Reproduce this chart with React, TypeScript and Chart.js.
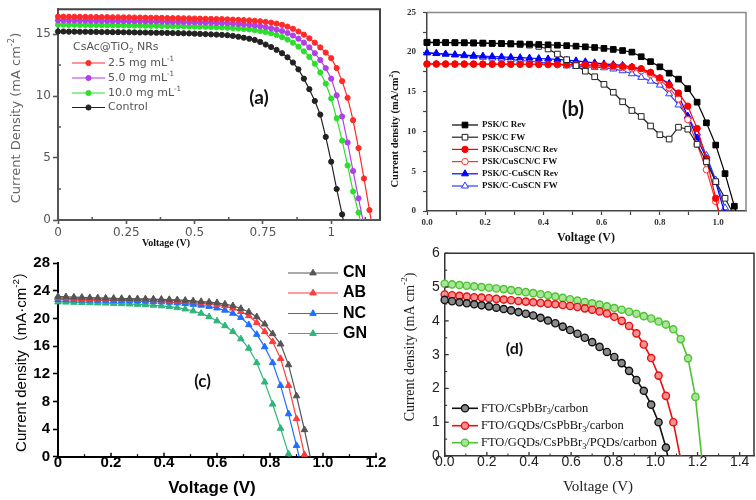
import React, { useEffect, useRef } from 'react';
import { Chart, registerables } from 'chart.js';

Chart.register(...registerables);

const W = 756;
const H = 500;

// ---------------- Panel (a) data ----------------
const A_VOLTAGE = [0, 0.02, 0.04, 0.06, 0.08, 0.1, 0.12, 0.14, 0.16, 0.18, 0.2, 0.22, 0.24, 0.26, 0.28, 0.3, 0.32, 0.34, 0.36, 0.38, 0.4, 0.42, 0.44, 0.46, 0.48, 0.5, 0.52, 0.54, 0.56, 0.58, 0.6, 0.62, 0.64, 0.66, 0.68, 0.7, 0.72, 0.74, 0.76, 0.78, 0.8, 0.82, 0.84, 0.86, 0.88, 0.9, 0.92, 0.94, 0.96, 0.98, 1.0, 1.02, 1.04, 1.06, 1.08, 1.1, 1.12, 1.14, 1.16];
const A_J_25 = [16.40, 16.40, 16.39, 16.39, 16.38, 16.38, 16.37, 16.37, 16.36, 16.36, 16.35, 16.35, 16.34, 16.34, 16.33, 16.33, 16.32, 16.31, 16.31, 16.30, 16.29, 16.28, 16.28, 16.27, 16.26, 16.25, 16.24, 16.23, 16.22, 16.21, 16.20, 16.18, 16.16, 16.14, 16.12, 16.10, 16.07, 16.03, 15.98, 15.92, 15.84, 15.74, 15.60, 15.42, 15.20, 14.95, 14.65, 14.30, 13.92, 13.50, 13.05, 12.25, 11.20, 9.85, 8.05, 5.80, 3.35, 0.80, -1.90];
const A_J_50 = [16.10, 16.10, 16.09, 16.09, 16.08, 16.08, 16.07, 16.07, 16.06, 16.06, 16.05, 16.05, 16.04, 16.04, 16.03, 16.03, 16.02, 16.01, 16.01, 16.00, 15.99, 15.98, 15.98, 15.97, 15.96, 15.95, 15.94, 15.93, 15.92, 15.90, 15.88, 15.86, 15.84, 15.81, 15.78, 15.74, 15.69, 15.63, 15.55, 15.46, 15.36, 15.24, 15.08, 14.88, 14.62, 14.30, 13.92, 13.45, 12.90, 12.25, 11.40, 10.05, 8.35, 6.25, 3.95, 1.75, -0.45, -2.60];
const A_J_100 = [15.75, 15.75, 15.74, 15.74, 15.73, 15.73, 15.72, 15.72, 15.71, 15.71, 15.70, 15.70, 15.69, 15.69, 15.68, 15.68, 15.67, 15.66, 15.66, 15.65, 15.64, 15.63, 15.63, 15.62, 15.61, 15.60, 15.59, 15.58, 15.57, 15.55, 15.53, 15.51, 15.48, 15.45, 15.41, 15.37, 15.31, 15.24, 15.16, 15.06, 14.92, 14.75, 14.55, 14.30, 13.98, 13.60, 13.15, 12.60, 11.90, 11.00, 9.80, 8.20, 6.40, 4.40, 2.30, 0.60, -1.30];
const A_J_CONTROL = [15.20, 15.20, 15.19, 15.19, 15.18, 15.18, 15.17, 15.17, 15.16, 15.16, 15.15, 15.15, 15.14, 15.14, 15.13, 15.12, 15.12, 15.11, 15.10, 15.10, 15.09, 15.08, 15.07, 15.06, 15.05, 15.03, 15.01, 14.99, 14.97, 14.95, 14.93, 14.90, 14.85, 14.78, 14.70, 14.62, 14.52, 14.36, 14.15, 13.95, 13.72, 13.45, 13.12, 12.70, 12.15, 11.40, 10.55, 9.60, 8.50, 6.70, 4.70, 2.50, 0.45, -1.80];
const A_NAMES = ['2.5 mg mL^{-1}', '5.0 mg mL^{-1}', '10.0 mg mL^{-1}', 'Control'];
const A_X_TICKS = [0, 0.25, 0.5, 0.75, 1];
const A_X_LABELS = ['0', '0.25', '0.5', '0.75', '1'];
const A_X_MINOR = [0.125, 0.375, 0.625, 0.875, 1.125];
const A_Y_TICKS = [0, 5, 10, 15];
const A_Y_LABELS = ['0', '5', '10', '15'];
const A_Y_MINOR = [2.5, 7.5, 12.5];

// ---------------- Panel (b) data ----------------
const B_VOLTAGE = [0, 0.032, 0.064, 0.096, 0.128, 0.16, 0.192, 0.224, 0.256, 0.288, 0.32, 0.352, 0.384, 0.416, 0.448, 0.48, 0.512, 0.544, 0.576, 0.608, 0.64, 0.672, 0.704, 0.736, 0.768, 0.8, 0.832, 0.864, 0.896, 0.928, 0.96, 0.992, 1.024, 1.056, 1.088];
const B_J_C_REV = [21.20, 21.19, 21.18, 21.17, 21.16, 21.14, 21.12, 21.10, 21.08, 21.06, 21.03, 21.00, 20.96, 20.92, 20.87, 20.81, 20.75, 20.67, 20.58, 20.47, 20.34, 20.20, 20.00, 19.42, 18.80, 18.15, 17.35, 16.60, 15.40, 13.70, 11.10, 8.30, 4.70, 0.60, -3.20];
const B_J_C_FW = [21.25, 21.24, 21.22, 21.21, 21.19, 21.17, 21.14, 21.11, 21.07, 21.02, 20.96, 20.88, 20.72, 20.40, 19.75, 19.05, 18.30, 17.60, 16.90, 15.95, 14.95, 13.75, 12.65, 11.90, 10.70, 9.60, 9.05, 10.55, 10.30, 8.40, 6.20, 3.70, 1.60, -0.60];
const B_J_CU_REV = [18.52, 18.52, 18.52, 18.51, 18.51, 18.51, 18.50, 18.50, 18.50, 18.49, 18.49, 18.48, 18.48, 18.47, 18.46, 18.45, 18.43, 18.41, 18.38, 18.34, 18.28, 18.21, 18.12, 17.92, 17.45, 16.75, 15.85, 14.85, 13.20, 10.40, 6.60, 1.60, -3.50];
const B_J_CU_FW = [18.48, 18.48, 18.47, 18.47, 18.47, 18.46, 18.46, 18.46, 18.45, 18.45, 18.44, 18.44, 18.43, 18.42, 18.41, 18.38, 18.35, 18.32, 18.28, 18.23, 18.15, 18.05, 17.90, 17.65, 17.20, 16.50, 15.50, 14.10, 11.50, 8.40, 5.20, 1.20, -3.00];
const B_J_CCU_REV = [19.90, 19.82, 19.75, 19.68, 19.62, 19.56, 19.50, 19.45, 19.40, 19.35, 19.30, 19.25, 19.20, 19.15, 19.08, 19.00, 18.90, 18.78, 18.65, 18.52, 18.42, 18.32, 18.12, 17.85, 17.38, 16.70, 16.05, 14.60, 11.90, 9.20, 6.60, 3.60, -0.40];
const B_J_CCU_FW = [19.95, 19.85, 19.75, 19.65, 19.55, 19.45, 19.35, 19.25, 19.15, 19.05, 18.95, 18.85, 18.75, 18.62, 18.48, 18.27, 18.20, 18.14, 18.08, 18.03, 17.87, 17.66, 17.28, 16.82, 16.35, 15.85, 14.75, 13.35, 11.95, 9.80, 7.00, 3.90, 0.40, -3.50];
const B_NAMES = ['PSK/C Rev', 'PSK/C FW', 'PSK/CuSCN/C Rev', 'PSK/CuSCN/C FW', 'PSK/C-CuSCN Rev', 'PSK/C-CuSCN FW'];
const B_X_TICKS = [0, 0.1, 0.2, 0.3, 0.4, 0.5, 0.6, 0.7, 0.8, 0.9, 1.0];
const B_X_LABELS = ['0.0', '', '0.2', '', '0.4', '', '0.6', '', '0.8', '', '1.0'];
const B_Y_TICKS = [0, 2.5, 5, 7.5, 10, 12.5, 15, 17.5, 20, 22.5, 25];
const B_Y_LABELS = ['0', '', '5', '', '10', '', '15', '', '20', '', '25'];

// ---------------- Panel (c) data ----------------
const C_VOLTAGE = [0, 0.03, 0.06, 0.09, 0.12, 0.15, 0.18, 0.21, 0.24, 0.27, 0.3, 0.33, 0.36, 0.39, 0.42, 0.45, 0.48, 0.51, 0.54, 0.57, 0.6, 0.63, 0.66, 0.69, 0.72, 0.75, 0.78, 0.81, 0.84, 0.87, 0.9, 0.93, 0.96];
const C_J_CN = [23.20, 23.15, 23.10, 23.06, 23.02, 22.99, 22.96, 22.93, 22.90, 22.88, 22.86, 22.84, 22.82, 22.79, 22.75, 22.70, 22.63, 22.55, 22.46, 22.38, 22.28, 22.10, 21.85, 21.45, 20.95, 20.25, 19.20, 17.80, 16.30, 13.30, 8.80, 3.90, -1.50];
const C_J_AB = [23.00, 22.96, 22.93, 22.90, 22.87, 22.85, 22.83, 22.81, 22.79, 22.77, 22.75, 22.73, 22.70, 22.67, 22.63, 22.58, 22.51, 22.43, 22.34, 22.22, 22.05, 21.85, 21.50, 21.00, 20.40, 19.40, 18.10, 16.65, 14.20, 10.30, 5.50, 0.30, -5.00];
const C_J_NC = [22.75, 22.72, 22.70, 22.68, 22.66, 22.64, 22.62, 22.60, 22.58, 22.56, 22.53, 22.50, 22.46, 22.41, 22.35, 22.27, 22.17, 22.05, 21.92, 21.75, 21.52, 21.20, 20.75, 20.15, 19.10, 17.70, 15.90, 13.60, 10.30, 6.20, 1.60, -3.30];
const C_J_GN = [22.40, 22.37, 22.34, 22.31, 22.28, 22.25, 22.22, 22.18, 22.14, 22.10, 22.05, 21.99, 21.92, 21.83, 21.72, 21.57, 21.38, 21.10, 20.75, 20.25, 19.65, 18.95, 18.10, 17.05, 15.70, 13.60, 10.80, 7.60, 4.10, 0.40, -3.50];
const C_NAMES = ['CN', 'AB', 'NC', 'GN'];
const C_X_TICKS = [0, 0.2, 0.4, 0.6, 0.8, 1.0, 1.2];
const C_X_LABELS = ['0', '0.2', '0.4', '0.6', '0.8', '1.0', '1.2'];
const C_X_MINOR = [0.1, 0.3, 0.5, 0.7, 0.9, 1.1];
const C_Y_TICKS = [0, 4, 8, 12, 16, 20, 24, 28];
const C_Y_LABELS = ['0', '4', '8', '12', '16', '20', '24', '28'];

// ---------------- Panel (d) data ----------------
const D_VOLTAGE = [0, 0.035, 0.07, 0.105, 0.14, 0.175, 0.21, 0.245, 0.28, 0.315, 0.35, 0.385, 0.42, 0.455, 0.49, 0.525, 0.56, 0.595, 0.63, 0.665, 0.7, 0.735, 0.77, 0.805, 0.84, 0.875, 0.91, 0.945, 0.98, 1.015, 1.05, 1.085, 1.12, 1.155, 1.19, 1.225];
const D_J_PLAIN = [4.62, 4.58, 4.55, 4.52, 4.49, 4.46, 4.43, 4.39, 4.35, 4.31, 4.26, 4.21, 4.16, 4.09, 4.01, 3.93, 3.83, 3.73, 3.62, 3.50, 3.37, 3.23, 3.08, 2.93, 2.75, 2.52, 2.25, 1.93, 1.52, 1.00, 0.25, -0.80];
const D_J_GQD = [4.78, 4.76, 4.74, 4.72, 4.70, 4.69, 4.67, 4.65, 4.63, 4.61, 4.59, 4.57, 4.55, 4.53, 4.51, 4.49, 4.47, 4.44, 4.41, 4.37, 4.33, 4.28, 4.22, 4.12, 4.00, 3.85, 3.63, 3.30, 2.90, 2.38, 1.78, 1.00, -0.10];
const D_J_GQD_PQD = [5.10, 5.08, 5.06, 5.04, 5.02, 5.00, 4.98, 4.96, 4.94, 4.91, 4.88, 4.85, 4.82, 4.79, 4.76, 4.72, 4.68, 4.64, 4.60, 4.56, 4.52, 4.48, 4.43, 4.38, 4.33, 4.27, 4.21, 4.14, 4.07, 3.98, 3.89, 3.75, 3.46, 2.89, 1.75, -0.35];
const D_NAMES = ['FTO/CsPbBr_{3}/carbon', 'FTO/GQDs/CsPbBr_{3}/carbon', 'FTO/GQDs/CsPbBr_{3}/PQDs/carbon'];
const D_X_TICKS = [0, 0.2, 0.4, 0.6, 0.8, 1.0, 1.2, 1.4];
const D_X_LABELS = ['0.0', '0.2', '0.4', '0.6', '0.8', '1.0', '1.2', '1.4'];
const D_X_MINOR = [0.1, 0.3, 0.5, 0.7, 0.9, 1.1, 1.3];
const D_Y_TICKS = [0, 1, 2, 3, 4, 5, 6];
const D_Y_LABELS = ['0', '1', '2', '3', '4', '5', '6'];
const D_Y_MINOR = [0.5, 1.5, 2.5, 3.5, 4.5, 5.5];

// ---------------- fonts ----------------
const DEJAVU = "'DejaVu Sans', sans-serif";
const SERIF = "'Liberation Serif', 'DejaVu Serif', serif";
const ARIAL = "'Liberation Sans', Arial, sans-serif";
const ARIAL_CJK = "'Liberation Sans', 'Noto Sans CJK SC', sans-serif";
const LATO = "Lato, 'Noto Sans', sans-serif";

type Seg = { t: string; sup?: boolean; sub?: boolean };

function parseRich(s: string): Seg[] {
  const out: Seg[] = [];
  const re = /(\^\{[^}]*\}|_\{[^}]*\})/g;
  let last = 0;
  let m: RegExpExecArray | null;
  while ((m = re.exec(s))) {
    if (m.index > last) out.push({ t: s.slice(last, m.index) });
    const inner = m[0].slice(2, -1);
    out.push(m[0][0] === '^' ? { t: inner, sup: true } : { t: inner, sub: true });
    last = m.index + m[0].length;
  }
  if (last < s.length) out.push({ t: s.slice(last) });
  return out;
}

function drawRich(ctx: CanvasRenderingContext2D, text: string, x: number, y: number, family: string, size: number, weight: string, color: string, align: string, rotate: boolean) {
  const segs = parseRich(text);
  const fontFor = (s: Seg) => `${weight} ${s.sup || s.sub ? size * 0.65 : size}px ${family}`;
  let total = 0;
  const widths = segs.map((s) => {
    ctx.font = fontFor(s);
    const w = ctx.measureText(s.t).width;
    total += w;
    return w;
  });
  ctx.save();
  ctx.translate(x, y);
  if (rotate) ctx.rotate(-Math.PI / 2);
  let cx = align === 'center' ? -total / 2 : align === 'right' ? -total : 0;
  ctx.fillStyle = color;
  ctx.textBaseline = 'middle';
  ctx.textAlign = 'left';
  segs.forEach((s, i) => {
    ctx.font = fontFor(s);
    const dy = s.sup ? -size * 0.38 : s.sub ? size * 0.3 : 0;
    ctx.fillText(s.t, cx, dy);
    cx += widths[i];
  });
  ctx.restore();
}

function drawMarker(ctx: CanvasRenderingContext2D, style: string, r: number, x: number, y: number, fill: string, stroke: string, lw: number) {
  ctx.beginPath();
  if (style === 'rect') {
    const s = r * Math.SQRT1_2;
    ctx.rect(x - s, y - s, 2 * s, 2 * s);
  } else if (style === 'triangle') {
    ctx.moveTo(x, y - r);
    ctx.lineTo(x + 0.866 * r, y + 0.5 * r);
    ctx.lineTo(x - 0.866 * r, y + 0.5 * r);
    ctx.closePath();
  } else {
    ctx.arc(x, y, r, 0, Math.PI * 2);
  }
  ctx.fillStyle = fill;
  ctx.fill();
  if (lw > 0) {
    ctx.lineWidth = lw;
    ctx.strokeStyle = stroke;
    ctx.stroke();
  }
}

type AxisSpec = {
  min: number; max: number; ticks: number[]; labels: string[];
  family: string; size: number; weight?: string; color: string;
  axisColor: string; axisWidth: number; tickLength: number; drawTicks: boolean; pad: number; box: number;
};

function axis(isX: boolean, a: AxisSpec) {
  return {
    type: 'linear',
    position: isX ? 'bottom' : 'left',
    min: a.min,
    max: a.max,
    afterBuildTicks: (s: any) => { s.ticks = a.ticks.map((v) => ({ value: v })); },
    afterFit: (s: any) => { if (isX) s.height = a.box; else s.width = a.box; },
    ticks: {
      autoSkip: false, maxRotation: 0, minRotation: 0, padding: a.pad, color: a.color,
      font: { family: a.family, size: a.size, weight: a.weight || 'normal' },
      callback: (_v: any, i: number) => a.labels[i] ?? '',
    },
    grid: {
      display: true, drawOnChartArea: false, drawTicks: a.drawTicks, tickLength: a.tickLength,
      tickWidth: a.axisWidth * 0.8, tickColor: a.axisColor, color: a.axisColor,
    },
    border: { display: true, color: a.axisColor, width: a.axisWidth },
  };
}

type TextSpec = { text: string; x: number; y: number; family: string; size: number; weight?: string; color: string; rotate?: boolean; align?: string };
type PanelSpec = {
  id: string;
  area: { left: number; top: number; right: number; bottom: number };
  x: AxisSpec; y: AxisSpec;
  datasets: any[];
  box?: { color: string; width: number };
  innerTicks?: { axis: string; values: number[]; len: number; color: string; width: number }[];
  legend?: { x1: number; x2: number; textX: number; ys: number[]; family: string; size: number; weight?: string; color: string };
  texts: TextSpec[];
};

function series(label: string, V: number[], J: number[], style: any) {
  return {
    label,
    data: J.map((y, i) => ({ x: V[i], y })),
    fill: false,
    tension: 0,
    clip: { left: 8, top: 8, right: 8, bottom: 0 },
    ...style,
  };
}

function decor(spec: PanelSpec) {
  return {
    id: 'decor_' + spec.id,
    afterDraw(chart: any) {
      const ctx: CanvasRenderingContext2D = chart.ctx;
      const ca = chart.chartArea;
      ctx.save();
      (spec.innerTicks || []).forEach((t) => {
        const sc = chart.scales[t.axis];
        ctx.strokeStyle = t.color;
        ctx.lineWidth = t.width;
        t.values.forEach((v) => {
          const p = sc.getPixelForValue(v);
          ctx.beginPath();
          if (t.axis === 'x') { ctx.moveTo(p, ca.bottom); ctx.lineTo(p, ca.bottom - t.len); }
          else { ctx.moveTo(ca.left, p); ctx.lineTo(ca.left + t.len, p); }
          ctx.stroke();
        });
      });
      if (spec.box) {
        ctx.strokeStyle = spec.box.color;
        ctx.lineWidth = spec.box.width;
        ctx.beginPath();
        ctx.moveTo(ca.left, ca.top);
        ctx.lineTo(ca.right, ca.top);
        ctx.lineTo(ca.right, ca.bottom);
        ctx.stroke();
      }
      const lg = spec.legend;
      if (lg) {
        chart.data.datasets.forEach((ds: any, i: number) => {
          const y = lg.ys[i];
          ctx.strokeStyle = ds.borderColor;
          ctx.lineWidth = ds.borderWidth;
          ctx.beginPath();
          ctx.moveTo(lg.x1, y);
          ctx.lineTo(lg.x2, y);
          ctx.stroke();
          drawMarker(ctx, ds.pointStyle, ds.pointRadius, (lg.x1 + lg.x2) / 2, y, ds.pointBackgroundColor, ds.pointBorderColor, ds.pointBorderWidth);
          drawRich(ctx, ds.label, lg.textX, y, lg.family, lg.size, lg.weight || 'normal', lg.color, 'left', false);
        });
      }
      spec.texts.forEach((t) => {
        drawRich(ctx, t.text, t.x, t.y, t.family, t.size, t.weight || 'normal', t.color, t.align || 'center', !!t.rotate);
      });
      ctx.restore();
    },
  };
}

function makeChart(canvas: HTMLCanvasElement, spec: PanelSpec) {
  return new Chart(canvas, {
    type: 'line',
    data: { datasets: spec.datasets },
    options: {
      animation: false,
      responsive: false,
      maintainAspectRatio: false,
      events: [],
      layout: {
        autoPadding: false,
        padding: {
          left: spec.area.left - spec.y.box,
          top: spec.area.top,
          right: W - spec.area.right,
          bottom: H - spec.area.bottom - spec.x.box,
        },
      },
      plugins: { legend: { display: false }, tooltip: { enabled: false }, title: { display: false } },
      scales: { x: axis(true, spec.x), y: axis(false, spec.y) },
    } as any,
    plugins: [decor(spec)],
  } as any);
}

function dot(color: string, r: number, style = 'circle', fill?: string, lw = 1) {
  return {
    borderColor: color, backgroundColor: color, borderWidth: 1.2, pointStyle: style, pointRadius: r,
    pointBackgroundColor: fill || color, pointBorderColor: color, pointBorderWidth: lw,
  };
}

const SPEC_A: PanelSpec = {
  id: 'a',
  area: { left: 58, top: 7, right: 380, bottom: 220 },
  x: { min: 0, max: 1.1786, ticks: A_X_TICKS, labels: A_X_LABELS, family: DEJAVU, size: 12, color: '#555', axisColor: '#555', axisWidth: 2, tickLength: 4, drawTicks: true, pad: 2, box: 30 },
  y: { min: 0, max: 17.0, ticks: A_Y_TICKS, labels: A_Y_LABELS, family: DEJAVU, size: 12, color: '#555', axisColor: '#555', axisWidth: 2, tickLength: 5, drawTicks: true, pad: 2, box: 50 },
  datasets: [
    series(A_NAMES[0], A_VOLTAGE, A_J_25, dot('#ff2a2a', 2.6)),
    series(A_NAMES[1], A_VOLTAGE, A_J_50, dot('#b040e8', 2.6)),
    series(A_NAMES[2], A_VOLTAGE, A_J_100, dot('#2be02b', 2.6)),
    series(A_NAMES[3], A_VOLTAGE, A_J_CONTROL, dot('#222222', 2.6)),
  ],
  box: { color: '#444', width: 2 },
  innerTicks: [
    { axis: 'x', values: A_X_MINOR, len: 3, color: '#555', width: 1.5 },
    { axis: 'y', values: A_Y_MINOR, len: 3, color: '#555', width: 1.5 },
  ],
  legend: { x1: 72, x2: 105, textX: 108, ys: [63, 78, 93, 107.5], family: DEJAVU, size: 11, color: '#555' },
  texts: [
    { text: 'CsAc@TiO_{2} NRs', x: 73, y: 47.5, family: DEJAVU, size: 11, color: '#555', align: 'left' },
    { text: 'Current Density (mA cm^{-2})', x: 17, y: 118, family: DEJAVU, size: 13, color: '#666', rotate: true },
    { text: 'Voltage (V)', x: 166, y: 243, family: SERIF, size: 10, weight: 'bold', color: '#111' },
    { text: '(a)', x: 259, y: 98, family: LATO, size: 19, weight: 'bold', color: '#111' },
  ],
};

const SPEC_B: PanelSpec = {
  id: 'b',
  area: { left: 427, top: 9, right: 746, bottom: 211 },
  x: { min: 0, max: 1.096, ticks: B_X_TICKS, labels: B_X_LABELS, family: SERIF, size: 9, weight: 'bold', color: '#333', axisColor: '#444', axisWidth: 1.5, tickLength: 4, drawTicks: true, pad: 2, box: 30 },
  y: { min: 0, max: 25, ticks: B_Y_TICKS, labels: B_Y_LABELS, family: SERIF, size: 9, weight: 'bold', color: '#333', axisColor: '#444', axisWidth: 1.5, tickLength: 4, drawTicks: true, pad: 7, box: 40 },
  datasets: [
    series(B_NAMES[0], B_VOLTAGE, B_J_C_REV, dot('#000000', 4, 'rect')),
    series(B_NAMES[1], B_VOLTAGE, B_J_C_FW, dot('#222222', 4, 'rect', '#ffffff', 1)),
    series(B_NAMES[2], B_VOLTAGE, B_J_CU_REV, dot('#ff0000', 3.2, 'circle')),
    series(B_NAMES[3], B_VOLTAGE, B_J_CU_FW, dot('#ff3030', 3.2, 'circle', '#ffffff', 1)),
    series(B_NAMES[4], B_VOLTAGE, B_J_CCU_REV, dot('#0000ff', 4, 'triangle')),
    series(B_NAMES[5], B_VOLTAGE, B_J_CCU_FW, dot('#2a3cff', 4, 'triangle', '#ffffff', 1)),
  ],
  box: { color: '#888', width: 1.5 },
  legend: { x1: 452, x2: 478, textX: 482, ys: [125, 137.2, 149.4, 161.6, 173.8, 186], family: SERIF, size: 9, weight: 'bold', color: '#111' },
  texts: [
    { text: 'Current density (mA/cm^{2})', x: 395, y: 129, family: SERIF, size: 10.5, weight: 'bold', color: '#111', rotate: true },
    { text: 'Voltage (V)', x: 586, y: 238, family: SERIF, size: 12, weight: 'bold', color: '#111' },
    { text: '(b)', x: 573, y: 109.5, family: LATO, size: 20, weight: 'bold', color: '#111' },
  ],
};

const SPEC_C: PanelSpec = {
  id: 'c',
  area: { left: 58, top: 263.3, right: 376, bottom: 456.7 },
  x: { min: 0, max: 1.2, ticks: C_X_TICKS, labels: C_X_LABELS, family: ARIAL, size: 15, weight: 'bold', color: '#000', axisColor: '#000', axisWidth: 2, tickLength: 0, drawTicks: false, pad: -2.4, box: 30 },
  y: { min: 0, max: 28, ticks: C_Y_TICKS, labels: C_Y_LABELS, family: ARIAL, size: 15, weight: 'bold', color: '#000', axisColor: '#000', axisWidth: 2, tickLength: 5, drawTicks: true, pad: 3, box: 50 },
  datasets: [
    series(C_NAMES[0], C_VOLTAGE, C_J_CN, dot('#555555', 3.8, 'triangle')),
    series(C_NAMES[1], C_VOLTAGE, C_J_AB, dot('#ff3b3b', 3.8, 'triangle')),
    series(C_NAMES[2], C_VOLTAGE, C_J_NC, dot('#1f6fff', 3.8, 'triangle')),
    series(C_NAMES[3], C_VOLTAGE, C_J_GN, dot('#2fb47a', 3.8, 'triangle')),
  ],
  innerTicks: [
    { axis: 'x', values: C_X_TICKS, len: 4, color: '#000', width: 1.5 },
    { axis: 'x', values: C_X_MINOR, len: 2.5, color: '#000', width: 1.2 },
  ],
  legend: { x1: 288, x2: 338, textX: 343, ys: [273, 293, 313.5, 333.5], family: ARIAL, size: 16, weight: 'bold', color: '#000' },
  texts: [
    { text: 'Current density（mA·cm^{-2}）', x: 22, y: 358, family: ARIAL_CJK, size: 15, color: '#000', rotate: true },
    { text: 'Voltage (V)', x: 212, y: 488, family: ARIAL, size: 17, weight: 'bold', color: '#000' },
    { text: '(c)', x: 202.5, y: 381.7, family: LATO, size: 17, weight: 'bold', color: '#111' },
  ],
};

const SPEC_D: PanelSpec = {
  id: 'd',
  area: { left: 444.7, top: 253.3, right: 754, bottom: 456 },
  x: { min: 0, max: 1.468, ticks: D_X_TICKS, labels: D_X_LABELS, family: ARIAL, size: 14, color: '#222', axisColor: '#333', axisWidth: 1.5, tickLength: 0, drawTicks: false, pad: -2.7, box: 30 },
  y: { min: 0, max: 6, ticks: D_Y_TICKS, labels: D_Y_LABELS, family: ARIAL, size: 14, color: '#222', axisColor: '#333', axisWidth: 1.5, tickLength: 0, drawTicks: false, pad: 5, box: 40 },
  datasets: [
    series(D_NAMES[0], D_VOLTAGE, D_J_PLAIN, { ...dot('#111111', 3.6, 'circle', '#8a8a8a', 1.4), borderWidth: 1.6 }),
    series(D_NAMES[1], D_VOLTAGE, D_J_GQD, { ...dot('#e81010', 3.6, 'circle', '#f59090', 1.4), borderWidth: 1.6 }),
    series(D_NAMES[2], D_VOLTAGE, D_J_GQD_PQD, { ...dot('#4fc232', 3.6, 'circle', '#a8e59a', 1.4), borderWidth: 1.6 }),
  ],
  box: { color: '#333', width: 1.5 },
  innerTicks: [
    { axis: 'x', values: D_X_TICKS, len: 4, color: '#333', width: 1.3 },
    { axis: 'x', values: D_X_MINOR, len: 2.5, color: '#333', width: 1.1 },
    { axis: 'y', values: D_Y_TICKS, len: 4, color: '#333', width: 1.3 },
    { axis: 'y', values: D_Y_MINOR, len: 2.5, color: '#333', width: 1.1 },
  ],
  legend: { x1: 452, x2: 478, textX: 481, ys: [408.3, 425.7, 442.7], family: SERIF, size: 12.5, color: '#111' },
  texts: [
    { text: 'Current density (mA cm^{-2})', x: 410, y: 347, family: SERIF, size: 14, color: '#222', rotate: true },
    { text: 'Voltage (V)', x: 598, y: 487, family: SERIF, size: 15, color: '#222' },
    { text: '(d)', x: 514.5, y: 349, family: LATO, size: 16, weight: 'bold', color: '#111' },
  ],
};

const SPECS = [SPEC_A, SPEC_B, SPEC_C, SPEC_D];

export default function App() {
  const r0 = useRef<HTMLCanvasElement>(null);
  const r1 = useRef<HTMLCanvasElement>(null);
  const r2 = useRef<HTMLCanvasElement>(null);
  const r3 = useRef<HTMLCanvasElement>(null);
  const refs = [r0, r1, r2, r3];

  useEffect(() => {
    const charts = SPECS.map((s, i) => makeChart(refs[i].current as HTMLCanvasElement, s));
    return () => charts.forEach((c) => c.destroy());
  }, []);

  return (
    <div style={{ position: 'fixed', left: 0, top: 0, width: W, height: H, background: '#ffffff', overflow: 'hidden' }}>
      {refs.map((r, i) => (
        <canvas key={i} ref={r} width={W} height={H} style={{ position: 'absolute', left: 0, top: 0, width: W, height: H }} />
      ))}
    </div>
  );
}
